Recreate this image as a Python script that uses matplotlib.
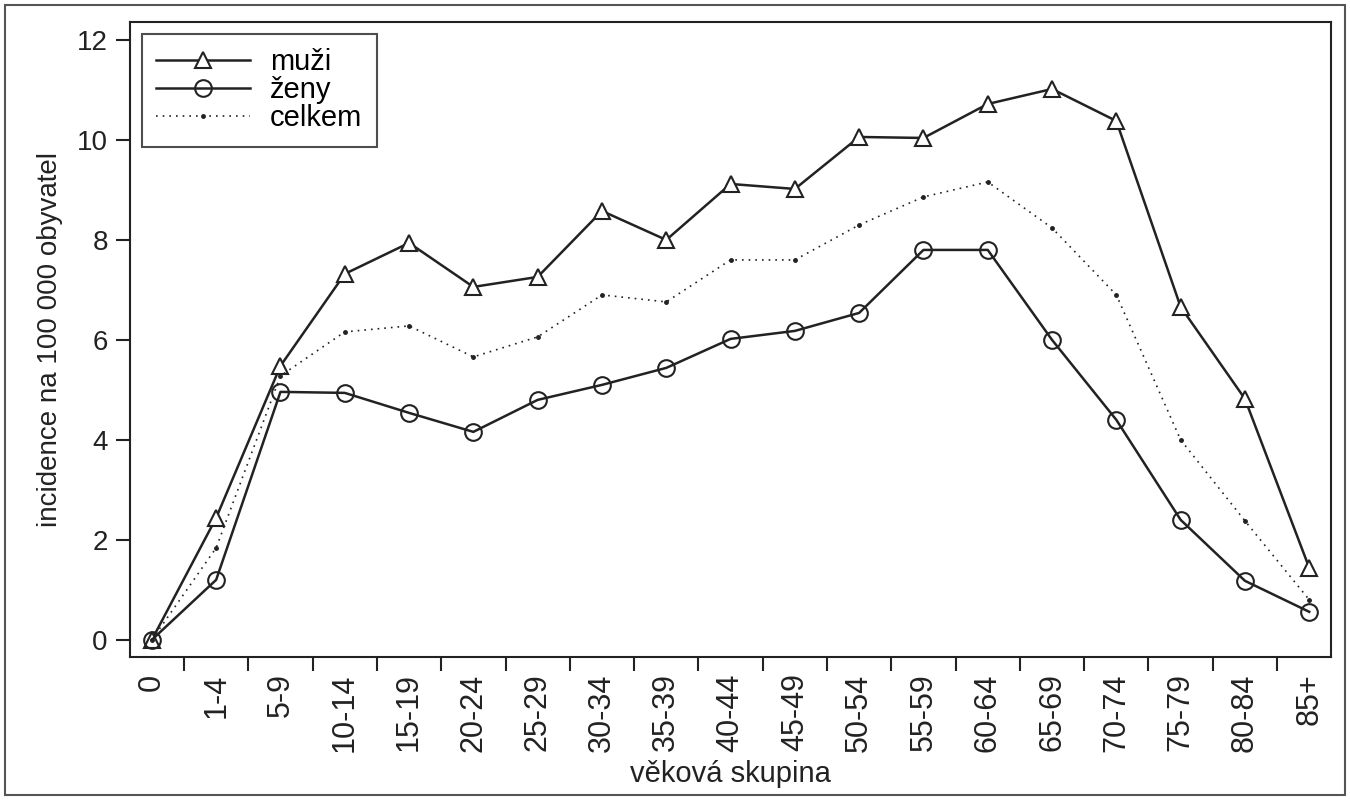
import matplotlib.pyplot as plt
from matplotlib.patches import Rectangle

plt.rcParams['font.family'] = ['Liberation Sans', 'DejaVu Sans']

skupiny = ['0', '1-4', '5-9', '10-14', '15-19', '20-24', '25-29', '30-34', '35-39',
           '40-44', '45-49', '50-54', '55-59', '60-64', '65-69', '70-74', '75-79',
           '80-84', '85+']
muzi = [0.0, 2.44, 5.48, 7.32, 7.94, 7.06, 7.26, 8.58, 8.0, 9.12, 9.02, 10.06,
        10.04, 10.72, 11.02, 10.38, 6.66, 4.82, 1.44]
zeny = [0.0, 1.2, 4.96, 4.94, 4.54, 4.16, 4.8, 5.1, 5.44, 6.02, 6.18, 6.54,
        7.8, 7.8, 6.0, 4.4, 2.4, 1.18, 0.56]
celkem = [0.0, 1.84, 5.28, 6.16, 6.28, 5.66, 6.06, 6.9, 6.76, 7.6, 7.6, 8.3,
          8.86, 9.16, 8.24, 6.9, 4.0, 2.38, 0.8]
y_ticks = [0, 2, 4, 6, 8, 10, 12]

fig = plt.figure(figsize=(13.5, 8), dpi=100)
ax = fig.add_axes([0.0963, 0.179, 0.8897, 0.7935])

x = list(range(len(skupiny)))
c = '#222222'
ax.plot(x, muzi, color=c, lw=1.8, marker='^', ms=12, mfc='white', mec=c, mew=1.5, label='muži')
ax.plot(x, zeny, color=c, lw=1.8, marker='o', ms=12, mfc='none', mec=c, mew=1.5, label='ženy')
ax.plot(x, celkem, color=c, lw=1.2, ls=(0, (1, 3)), marker='o', ms=2.5, mfc=c, mec=c, label='celkem')

ax.set_xlim(-0.34, len(skupiny) - 1 + 0.34)
ax.set_ylim(-0.34, 12.36)
ax.set_yticks(y_ticks)
ax.set_xticks(x)
ax.set_xticklabels(skupiny, rotation=90)
# ticks sit between the age groups
ax.set_xticks([i + 0.5 for i in range(len(skupiny) - 1)], minor=True)
ax.tick_params(axis='x', which='major', length=0, labelsize=22, pad=12, colors=c)
ax.tick_params(axis='x', which='minor', length=10, width=1.5, color=c)
ax.tick_params(axis='y', length=10, width=1.5, labelsize=20, pad=6, colors=c)
for s in ax.spines.values():
    s.set_linewidth(1.5)
    s.set_color(c)

ax.set_ylabel('incidence na 100 000 obyvatel', fontsize=20, color=c, labelpad=10)
ax.set_xlabel('věková skupina', fontsize=21, color=c, labelpad=6)

leg = ax.legend(loc='upper left', fontsize=21, frameon=True, fancybox=False,
                edgecolor=c, handlelength=3.2, borderaxespad=0.4, labelspacing=0.0,
                handletextpad=0.7, borderpad=0.5)
leg.get_frame().set_linewidth(1.5)

# outer frame around the whole picture
fig.patches.append(Rectangle((0.004, 0.006), 0.992, 0.988, transform=fig.transFigure,
                             fill=False, edgecolor='#555555', lw=1.5))

fig.savefig('out.png', dpi=100)
